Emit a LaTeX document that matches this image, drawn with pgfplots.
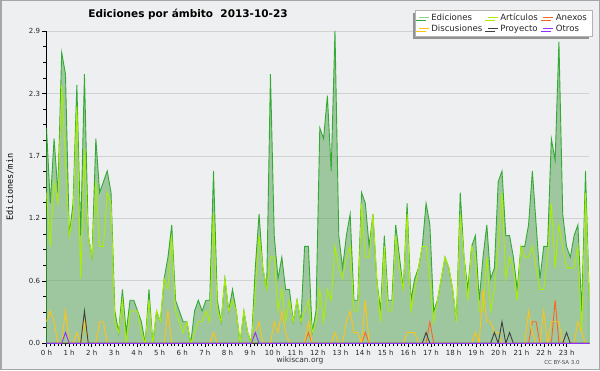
\documentclass[border=0pt]{standalone}
\usepackage{fontspec}
\setmainfont{DejaVu Sans}
\newfontfamily\monofont{DejaVu Sans Mono}
\usepackage{pgfplots}
\pgfplotsset{compat=1.18}
\usepackage{pgfplotstable}
\usetikzlibrary{shadows}

\definecolor{bgc}{RGB}{238,239,240}
\definecolor{edline}{RGB}{51,170,51}
\definecolor{edfill}{RGB}{82,161,80}
\definecolor{edleg}{RGB}{140,210,140}
\definecolor{artc}{RGB}{170,238,0}
\definecolor{anxc}{RGB}{255,100,30}
\definecolor{disc}{RGB}{255,195,20}
\definecolor{proc}{RGB}{64,64,64}
\definecolor{otrc}{RGB}{140,50,255}

\pgfplotstableread{
i edi art anx dis pro otr
0 2.0 1.4 0 0.2 0 0
1 1.3 0.9 0 0.3 0 0
2 1.9 1.5 0 0.2 0 0
3 1.4 1.3 0 0 0 0
4 2.7 2.4 0 0 0 0
5 2.5 1.7 0 0.3 0 0.1
6 1.0 1.0 0 0 0 0
7 1.3 1.2 0 0 0 0
8 2.4 2.2 0 0.1 0 0
9 1.0 0.6 0 0 0 0
10 2.5 1.8 0 0.2 0.3 0
11 1.0 1.0 0 0 0 0
12 0.8 0.8 0 0 0 0
13 1.9 1.5 0 0 0 0
14 1.4 0.9 0 0.2 0 0
15 1.5 0.9 0 0.2 0 0
16 1.6 1.4 0 0 0 0
17 1.4 1.3 0 0 0 0
18 0.3 0.2 0 0 0 0
19 0.1 0.1 0 0 0 0
20 0.5 0.4 0 0 0 0
21 0.1 0.0 0 0 0 0
22 0.4 0.3 0 0 0 0
23 0.4 0.3 0 0 0 0
24 0.3 0.3 0 0 0 0
25 0.2 0.1 0 0 0 0
26 0.0 0.0 0 0 0 0
27 0.5 0.4 0 0 0 0
28 0.0 0.0 0 0 0 0
29 0.3 0.3 0 0 0 0
30 0.2 0.2 0 0 0 0
31 0.6 0.6 0 0 0 0
32 0.8 0.5 0 0.3 0 0
33 1.1 1.0 0 0 0 0
34 0.4 0.3 0 0 0 0
35 0.3 0.2 0 0 0 0
36 0.2 0.1 0 0 0 0
37 0.2 0.2 0 0 0 0
38 0.0 0.0 0 0 0 0
39 0.3 0.1 0 0 0 0
40 0.4 0.2 0 0 0 0
41 0.3 0.2 0 0 0 0
42 0.4 0.3 0 0 0 0
43 0.4 0.2 0 0 0 0
44 1.6 1.2 0 0.1 0 0
45 0.4 0.3 0 0 0 0
46 0.2 0.2 0 0 0 0
47 0.6 0.6 0 0 0 0
48 0.3 0.3 0 0 0 0
49 0.5 0.4 0 0 0 0
50 0.3 0.3 0 0 0 0
51 0.0 0.0 0 0 0 0
52 0.3 0.3 0 0 0 0
53 0.1 0.1 0 0 0 0
54 0.0 0.0 0 0 0 0
55 0.7 0.5 0 0.1 0 0.1
56 1.2 1.0 0 0.2 0 0
57 0.7 0.7 0 0 0 0
58 0.5 0.5 0 0 0 0
59 2.5 0.8 0 0 0 0
60 1.0 0.8 0 0.2 0 0
61 0.6 0.3 0 0.1 0 0
62 0.8 0.5 0 0.3 0 0
63 0.5 0.2 0 0.1 0 0
64 0.5 0.4 0 0 0 0
65 0.2 0.2 0 0 0 0
66 0.4 0.4 0 0 0 0
67 0.2 0.2 0 0 0 0
68 0.9 0.3 0 0 0 0
69 0.9 0.4 0.1 0.2 0 0
70 0.1 0.1 0 0 0 0
71 0.3 0.2 0 0 0 0
72 2.0 0.5 0 0 0 0
73 1.9 0.2 0 0 0 0
74 2.3 0.5 0 0 0 0
75 1.6 0.4 0 0 0 0
76 2.9 0.9 0 0.1 0 0
77 1.0 0.7 0 0 0 0
78 0.7 0.6 0 0 0 0
79 1.0 0.8 0 0.2 0 0
80 1.2 0.9 0 0.3 0 0
81 0.4 0.3 0 0.1 0 0
82 0.4 0.3 0 0.1 0 0
83 1.4 1.3 0 0 0 0
84 1.3 0.8 0.1 0.4 0 0
85 0.9 0.8 0 0 0 0
86 1.2 1.2 0 0 0 0
87 0.6 0.6 0 0 0 0
88 0.3 0.2 0 0 0 0
89 1.0 0.9 0 0 0 0
90 0.4 0.3 0 0 0 0
91 0.4 0.3 0 0 0 0
92 1.1 1.0 0 0 0 0
93 0.8 0.7 0 0 0 0
94 0.5 0.5 0 0 0 0
95 1.3 1.2 0 0.1 0 0
96 0.4 0.3 0 0.1 0 0
97 0.6 0.5 0 0.1 0 0
98 0.7 0.7 0 0 0 0
99 0.9 0.9 0 0 0 0
100 1.3 0.9 0 0 0.1 0
101 1.1 0.6 0.2 0 0 0
102 0.3 0.2 0 0 0 0
103 0.4 0.4 0 0 0 0
104 0.6 0.6 0 0 0 0
105 0.8 0.8 0 0 0 0
106 0.7 0.7 0 0 0 0
107 0.5 0.5 0 0 0 0
108 0.2 0.2 0 0 0 0
109 1.4 1.2 0 0 0 0
110 0.8 0.8 0 0 0 0
111 0.5 0.4 0 0 0 0
112 0.9 0.9 0 0 0 0
113 1.0 0.8 0 0.1 0 0
114 0.4 0.3 0 0 0 0
115 0.8 0.3 0 0.5 0 0
116 1.1 0.8 0 0.2 0 0
117 0.6 0.3 0 0.2 0 0
118 0.7 0.5 0 0.1 0.1 0
119 1.5 0.9 0 0.1 0 0
120 1.6 1.4 0 0 0.2 0
121 1.0 0.6 0 0 0 0
122 1.0 0.8 0 0 0.1 0
123 0.8 0.7 0 0 0 0
124 0.5 0.4 0 0 0 0
125 0.9 0.9 0 0 0 0
126 0.9 0.8 0 0 0 0
127 1.1 0.8 0 0.3 0 0
128 1.6 0.9 0.2 0.1 0 0
129 1.1 0.7 0.2 0 0 0
130 0.6 0.5 0 0 0 0
131 0.9 0.5 0 0.3 0 0
132 0.9 0.8 0 0 0 0
133 1.9 1.3 0 0.2 0 0
134 1.7 0.7 0.4 0.2 0 0
135 2.8 1.1 0 0.2 0 0
136 1.2 0.9 0 0 0 0
137 0.9 0.7 0 0 0.1 0
138 0.8 0.7 0 0 0 0
139 1.0 0.7 0 0 0 0
140 1.1 0.9 0 0.2 0 0
141 0.3 0.1 0 0.1 0 0
142 1.6 1.4 0 0 0 0
143 0.4 0.4 0 0 0 0
}\datatable

\begin{document}
\begin{tikzpicture}[x=1pt,y=1pt]
\useasboundingbox (0,0) rectangle (600,370);
\fill[bgc] (0,0) rectangle (600,370);
\draw[gray!70, line width=1.5pt] (0.75,0.75) rectangle (599.25,369.25);
\node[font=\bfseries\fontsize{10.5}{12}\selectfont] at (188,356) {Ediciones por ámbito\ \ 2013-10-23};
\node[rotate=90, font=\monofont\fontsize{8.5}{10}\selectfont] at (10,183) {Ediciones/min};
\node[font=\fontsize{7.5}{9}\selectfont, text=black!80] at (300,9.5) {wikiscan.org};
\node[font=\fontsize{5.5}{7}\selectfont, text=black!70] at (562,8) {CC BY-SA 3.0};
\begin{axis}[
  at={(46.5pt,26.7pt)}, anchor=south west,
  scale only axis, width=542.8pt, height=312.3pt,
  xmin=0, xmax=24, ymin=0, ymax=2.9,
  axis x line*=bottom, axis y line*=left,
  axis line style={-, black, line width=0.8pt},
  tick align=outside,
  major tick length=4pt, minor tick length=3pt,
  every tick/.style={black, line width=0.6pt},
  xtick={0,1,...,23},
  xticklabels={0 h,1 h,2 h,3 h,4 h,5 h,6 h,7 h,8 h,9 h,10 h,11 h,12 h,13 h,14 h,15 h,16 h,17 h,18 h,19 h,20 h,21 h,22 h,23 h},
  minor x tick num=5,
  ytick={0,0.58,1.16,1.74,2.32,2.9},
  yticklabels={0.0,0.6,1.2,1.7,2.3,2.9},
  minor y tick num=3,
  ymajorgrids, grid style={gray!35, line width=0.8pt},
  tick label style={font=\fontsize{7}{8}\selectfont, text=black!85},
  xticklabel style={yshift=1pt},
  yticklabel style={xshift=1pt},
  /pgf/number format/assume math mode=true,
  legend columns=3,
  legend image code/.code={\draw[#1, line width=1pt] (0pt,0pt) -- (10pt,0pt);},
  legend style={at={(1.005,1.067)}, anchor=north east, draw=gray!60, fill=white,
    font=\fontsize{8.6}{9}\selectfont, text=black!85, inner xsep=3pt, inner ysep=1.5pt,
    row sep=-1.5pt, cells={anchor=west},
    /tikz/every even column/.append style={column sep=3pt},
    drop shadow={shadow xshift=-2.5pt, shadow yshift=-2.5pt, fill=gray!85, opacity=1}},
]
\addplot[draw=edline, line width=0.9pt, fill=edfill, fill opacity=0.5,
  legend image code/.code={\draw[edleg, line width=1pt] (0pt,0pt) -- (10pt,0pt);}]
  table[x expr=\thisrow{i}*24/143, y=edi] {\datatable} \closedcycle;
\addplot[artc, line width=0.9pt] table[x expr=\thisrow{i}*24/143, y=art] {\datatable};
\addplot[anxc, line width=0.9pt] table[x expr=\thisrow{i}*24/143, y=anx] {\datatable};
\addplot[disc, line width=0.9pt] table[x expr=\thisrow{i}*24/143, y=dis] {\datatable};
\addplot[proc, line width=0.9pt] table[x expr=\thisrow{i}*24/143, y=pro] {\datatable};
\addplot[otrc, line width=0.9pt] table[x expr=\thisrow{i}*24/143, y=otr] {\datatable};
\legend{Ediciones, Artículos, Anexos, Discusiones, Proyecto, Otros}
\end{axis}
\end{tikzpicture}
\end{document}
